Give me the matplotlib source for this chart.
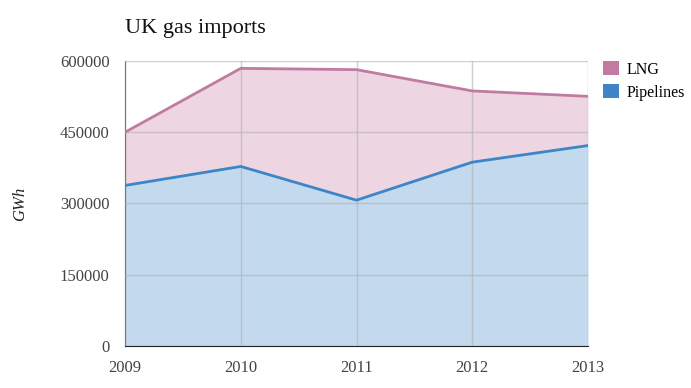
import matplotlib
matplotlib.use("Agg")
import matplotlib.pyplot as plt
from matplotlib.patches import Patch
import numpy as np

years = [2009, 2010, 2011, 2012, 2013]
pipelines = [338000, 378000, 307000, 387000, 422000]
lng = [112000, 206500, 274800, 150000, 103600]
y_ticks = [0, 150000, 300000, 450000, 600000]
series_names = ["LNG", "Pipelines"]

lng_line = "#c27ba0"
lng_fill = "#edd6e2"
pipe_line = "#3d85c6"
pipe_fill = "#c3d9ed"

plt.rcParams['font.family'] = ['Liberation Serif', 'DejaVu Serif']

fig = plt.figure(figsize=(6.91, 3.88), dpi=100)
ax = fig.add_axes([125/691, 42/388, (588-125)/691, (346-61)/388])

x = np.array(years)
p = np.array(pipelines)
total = p + np.array(lng)

ax.fill_between(x, 0, p, color=pipe_fill, lw=0, zorder=1)
ax.fill_between(x, p, total, color=lng_fill, lw=0, zorder=1)
ax.plot(x, p, color=pipe_line, lw=2, zorder=3, solid_joinstyle='round')
ax.plot(x, total, color=lng_line, lw=2, zorder=3, solid_joinstyle='round')

ax.set_xlim(2009, 2013)
ax.set_ylim(0, 600000)
ax.set_xticks(years)
ax.set_xticklabels([str(y) for y in years])
ax.set_yticks(y_ticks)
ax.set_yticklabels([str(v) for v in y_ticks])
ax.grid(True, color="#b0b0b0", lw=1, alpha=0.6, zorder=2)
ax.set_axisbelow(False)
for s in ['top', 'right']:
    ax.spines[s].set_visible(False)
ax.spines['left'].set_color('#222222')
ax.spines['bottom'].set_color('#222222')
ax.tick_params(length=0, labelsize=12, colors='#444444')
ax.tick_params(axis='y', pad=11)
ax.tick_params(axis='x', pad=10)

ax.set_ylabel("GWh", fontstyle='italic', fontsize=12, color='#222222', labelpad=23)

fig.text(125/691, 1 - 28/388, "UK gas imports", fontsize=16, color='#111111',
         ha='left', va='center')

handles = [Patch(facecolor=lng_line, edgecolor='none'),
           Patch(facecolor=pipe_line, edgecolor='none')]
fig.legend(handles, series_names, loc='upper left',
           bbox_to_anchor=(603/691, 1 - 61/388), frameon=False,
           borderaxespad=0, borderpad=0,
           fontsize=11.5, handlelength=1.0, handleheight=1.0,
           handletextpad=0.45, labelspacing=0.4)

fig.savefig("out.png", dpi=100)
